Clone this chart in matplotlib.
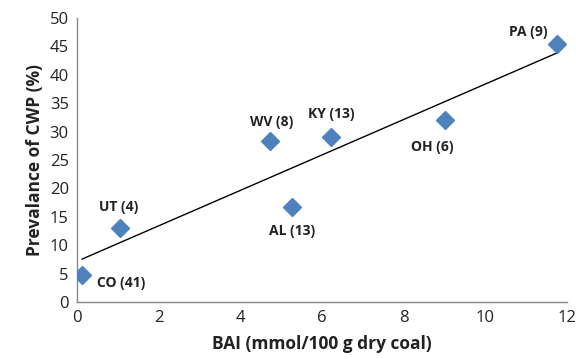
import numpy as np
import matplotlib.pyplot as plt

# data
states = ["CO (41)", "UT (4)", "WV (8)", "AL (13)", "KY (13)", "OH (6)", "PA (9)"]
bai = [0.12, 1.05, 4.73, 5.27, 6.22, 9.02, 11.76]
prevalence = [4.8, 13.0, 28.3, 16.7, 29.0, 32.0, 45.4]

# label offsets in points (x, y) and alignment
LABEL_OFFSETS = [(11, -6), (-1, 15), (1, 14), (0, -17), (0, 17), (-9, -19), (-21, 9)]
LABEL_HA = ["left", "center", "center", "center", "center", "center", "center"]

MARKER_COLOR = "#4F81BD"
FONT = "Open Sans"

fig = plt.figure(figsize=(5.76, 3.59), dpi=100)
ax = fig.add_axes([0.134, 0.159, 0.850, 0.791])

ax.plot(bai, prevalence, linestyle="none", marker="D", markersize=9,
        color=MARKER_COLOR, zorder=3)

# linear trend line across the data range
slope, intercept = np.polyfit(bai, prevalence, 1)
xs = np.array([min(bai), max(bai)])
ax.plot(xs, slope * xs + intercept, color="black", linewidth=1.0, zorder=2)

for name, x, y, off, ha in zip(states, bai, prevalence, LABEL_OFFSETS, LABEL_HA):
    ax.annotate(name, (x, y), xytext=off, textcoords="offset points",
                ha=ha, va="center", fontsize=10, fontweight="bold",
                family=FONT, color="#222222")

ax.set_xlim(0, 12)
ax.set_ylim(0, 50)
ax.set_xticks(range(0, 13, 2))
ax.set_yticks(range(0, 51, 5))
ax.tick_params(length=0, labelsize=12, pad=6, labelcolor="#222222")
for lab in ax.get_xticklabels() + ax.get_yticklabels():
    lab.set_family(FONT)

for side in ["top", "right"]:
    ax.spines[side].set_visible(False)
for side in ["left", "bottom"]:
    ax.spines[side].set_color("#888888")
    ax.spines[side].set_linewidth(1.0)

ax.set_xlabel("BAI (mmol/100 g dry coal)", fontsize=12.5, fontweight="bold",
              family=FONT, labelpad=6, color="#222222")
ax.set_ylabel("Prevalance of CWP (%)", fontsize=12.5, fontweight="bold",
              family=FONT, labelpad=4, color="#222222")

fig.savefig("out.png", dpi=100)
